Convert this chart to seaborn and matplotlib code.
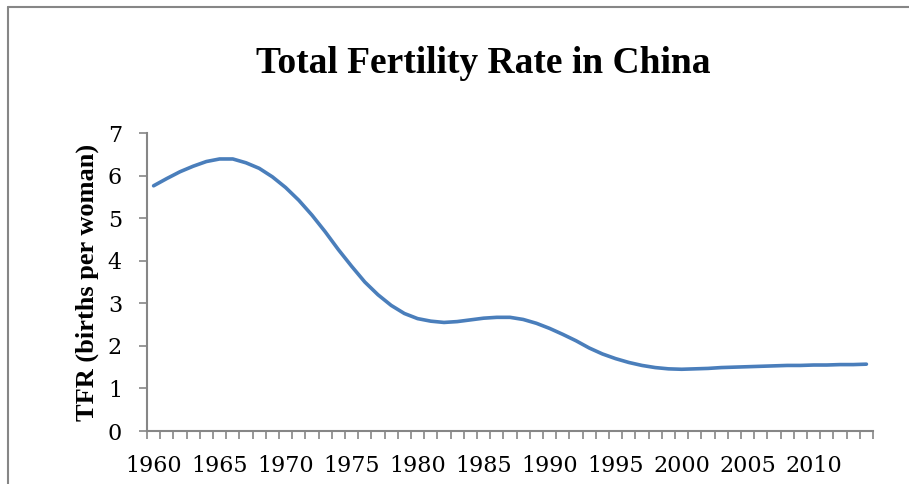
import numpy as np
import pandas as pd
import matplotlib.pyplot as plt
import seaborn as sns
from matplotlib.ticker import FixedLocator

# TFR, one value per year
years = list(range(1960, 2015))
tfr = [5.76, 5.93, 6.09, 6.22, 6.33, 6.39, 6.39, 6.30, 6.17, 5.97,
       5.72, 5.42, 5.07, 4.68, 4.26, 3.87, 3.50, 3.20, 2.95, 2.76,
       2.64, 2.58, 2.55, 2.57, 2.61, 2.65, 2.67, 2.67, 2.62, 2.53,
       2.41, 2.27, 2.12, 1.95, 1.81, 1.70, 1.61, 1.54, 1.49, 1.46,
       1.45, 1.46, 1.47, 1.49, 1.50, 1.51, 1.52, 1.53, 1.54, 1.54,
       1.55, 1.55, 1.56, 1.56, 1.57]
label_years = [1960, 1965, 1970, 1975, 1980, 1985, 1990, 1995, 2000, 2005, 2010]

df = pd.DataFrame({"Year": years, "TFR": tfr})

sns.set_style("white")
plt.rcParams['font.family'] = ['DejaVu Serif']
plt.rcParams['text.color'] = 'black'
plt.rcParams['axes.labelcolor'] = 'black'
plt.rcParams['xtick.labelcolor'] = 'black'
plt.rcParams['ytick.labelcolor'] = 'black'

fig = plt.figure(figsize=(9.09, 4.84), dpi=100)
ax = fig.add_axes([147 / 909, 1 - 431 / 484, (873 - 147) / 909, (431 - 133) / 484])

sns.lineplot(data=df, x="Year", y="TFR", color="#4a7ebb", linewidth=2.6, ax=ax)

grey = "#868686"
ax.set_xlim(1959.5, 2014.5)
ax.set_ylim(0, 7)
ax.set_yticks(range(0, 8))
ax.tick_params(axis='y', left=True, direction='out', length=6, width=1.2, color=grey,
               labelcolor='black', labelsize=16, pad=12)

# category boundaries get the tick marks, labels sit on the years
ax.xaxis.set_major_locator(FixedLocator(np.arange(1959.5, 2015, 1)))
ax.xaxis.set_major_formatter(plt.NullFormatter())
ax.set_xticks(label_years, minor=True)
ax.set_xticklabels([str(y) for y in label_years], minor=True)
ax.tick_params(axis='x', which='major', bottom=True, direction='out', length=6, width=1.2, color=grey)
ax.tick_params(axis='x', which='minor', bottom=True, length=0, labelsize=16, pad=17,
               labelcolor='black')

for side in ['top', 'right']:
    ax.spines[side].set_visible(False)
for side in ['left', 'bottom']:
    ax.spines[side].set_color(grey)
    ax.spines[side].set_linewidth(1.5)

ax.set_xlabel("")
ax.set_ylabel("TFR (births per woman)", fontsize=19, fontweight='bold', color='black',
              family=['Liberation Serif'], labelpad=6)

fig.text(483 / 909, 1 - 63 / 484, "Total Fertility Rate in China", ha='center', va='center',
         fontsize=27, fontweight='bold', color='black', family=['Liberation Serif'])

# chart frame (left and top edges visible in the reference)
fig.add_artist(plt.Line2D([8 / 909, 8 / 909], [0, 1 - 7 / 484], color=grey, linewidth=1.5,
                          transform=fig.transFigure))
fig.add_artist(plt.Line2D([8 / 909, 1], [1 - 7 / 484, 1 - 7 / 484], color=grey, linewidth=1.5,
                          transform=fig.transFigure))

fig.savefig("out.png", dpi=100)
